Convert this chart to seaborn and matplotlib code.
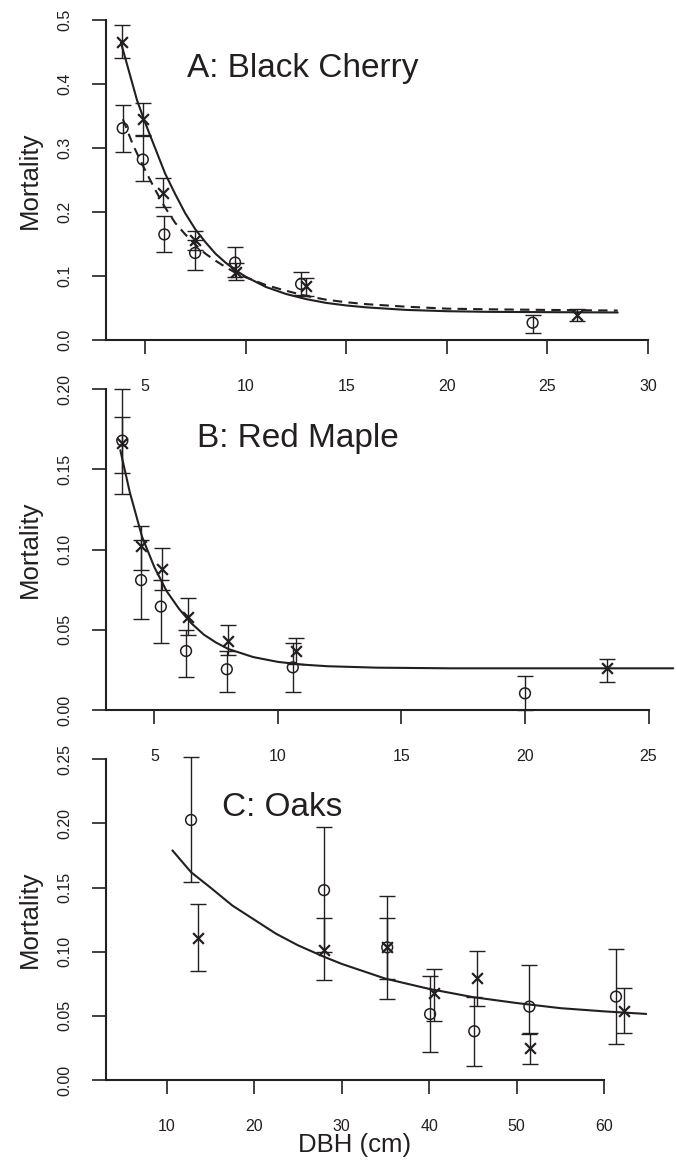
import matplotlib
matplotlib.use("Agg")
from matplotlib import pyplot as plt
import seaborn as sns
import pandas as pd

# panel A: black cherry
a_cross_x = [3.84, 4.92, 5.91, 7.49, 9.53, 12.98, 26.5]
a_cross_y = [0.465, 0.346, 0.230, 0.157, 0.107, 0.084, 0.039]
a_cross_lo = [0.440, 0.320, 0.208, 0.140, 0.094, 0.068, 0.030]
a_cross_hi = [0.492, 0.370, 0.253, 0.170, 0.120, 0.097, 0.048]
a_circ_x = [3.89, 4.89, 5.96, 7.49, 9.48, 12.76, 24.27]
a_circ_y = [0.331, 0.282, 0.165, 0.136, 0.121, 0.0875, 0.027]
a_circ_lo = [0.294, 0.248, 0.137, 0.109, 0.099, 0.070, 0.0115]
a_circ_hi = [0.367, 0.319, 0.193, 0.156, 0.145, 0.107, 0.039]
a_solid_x = [3.8, 4.2, 4.6, 5.0, 5.5, 6.0, 6.5, 7.0, 7.5, 8.0, 8.5, 9.0, 9.5, 10, 11, 12, 13, 14, 15, 16, 18, 20, 22, 25, 28.5]
a_solid_y = [0.465, 0.42, 0.375, 0.34, 0.30, 0.26, 0.228, 0.198, 0.173, 0.153, 0.135, 0.121, 0.109, 0.099,
             0.083, 0.072, 0.064, 0.058, 0.054, 0.051, 0.047, 0.045, 0.044, 0.0435, 0.043]
a_dash_x = [3.9, 4.4, 4.9, 5.5, 6.0, 6.5, 7.0, 7.5, 8.0, 8.5, 9.0, 9.5, 10, 11, 12, 13, 14, 15, 16, 18, 20, 22, 25, 28.5]
a_dash_y = [0.345, 0.305, 0.272, 0.235, 0.207, 0.183, 0.165, 0.149, 0.135, 0.124, 0.114, 0.105, 0.098,
            0.086, 0.077, 0.069, 0.063, 0.059, 0.056, 0.052, 0.049, 0.048, 0.047, 0.046]

# panel B: red maple
b_cross_x = [3.68, 4.45, 5.30, 6.35, 7.97, 10.74, 23.3]
b_cross_y = [0.1665, 0.102, 0.0878, 0.0582, 0.043, 0.0368, 0.026]
b_cross_lo = [0.148, 0.087, 0.075, 0.047, 0.034, 0.0287, 0.0177]
b_cross_hi = [0.183, 0.115, 0.101, 0.070, 0.053, 0.045, 0.032]
b_circ_x = [3.70, 4.46, 5.26, 6.28, 7.93, 10.6, 20.0]
b_circ_y = [0.168, 0.081, 0.0645, 0.0368, 0.0254, 0.0266, 0.0104]
b_circ_lo = [0.135, 0.057, 0.042, 0.0204, 0.011, 0.0114, 0.0]
b_circ_hi = [0.200, 0.106, 0.081, 0.050, 0.037, 0.0416, 0.021]
b_solid_x = [3.62, 4.0, 4.5, 5.0, 5.5, 6.0, 6.5, 7.0, 7.5, 8.0, 9.0, 10, 11, 12, 14, 17, 20, 26]
b_solid_y = [0.162, 0.136, 0.108, 0.089, 0.074, 0.063, 0.054, 0.047, 0.042, 0.038, 0.033, 0.030,
             0.0283, 0.0273, 0.0264, 0.026, 0.026, 0.026]

# panel C: oaks
c_cross_x = [13.6, 27.98, 35.2, 40.5, 45.5, 51.5, 62.3]
c_cross_y = [0.111, 0.101, 0.1034, 0.068, 0.0798, 0.0247, 0.054]
c_cross_lo = [0.085, 0.078, 0.0785, 0.0463, 0.058, 0.0125, 0.0364]
c_cross_hi = [0.137, 0.126, 0.1266, 0.0865, 0.1008, 0.037, 0.0715]
c_circ_x = [12.78, 27.98, 35.2, 40.1, 45.15, 51.45, 61.35]
c_circ_y = [0.2027, 0.148, 0.1034, 0.0514, 0.038, 0.0572, 0.065]
c_circ_lo = [0.154, 0.100, 0.063, 0.022, 0.011, 0.036, 0.028]
c_circ_hi = [0.2515, 0.197, 0.1437, 0.081, 0.065, 0.090, 0.102]
c_solid_x = [10.65, 12.78, 15, 17.5, 20, 22.5, 25, 28, 30, 35, 40, 45, 50, 55, 60, 64.8]
c_solid_y = [0.179, 0.162, 0.150, 0.136, 0.125, 0.114, 0.105, 0.096, 0.0905, 0.079, 0.071,
             0.0646, 0.060, 0.056, 0.0535, 0.0515]

ink = "#231f20"
sns.set_theme(style="ticks")
plt.rcParams["font.family"] = ["Liberation Sans", "DejaVu Sans"]

W, H = 677, 1163
fig = plt.figure(figsize=(W / 100, H / 100), dpi=100)


def panel(top_px, bottom_px, xlim, xticks, yticks, ylabels, title, title_xy,
          cross, circ, curves):
    ax = fig.add_axes([106 / W, 1 - bottom_px / H, 566 / W, (bottom_px - top_px) / H])
    ax.patch.set_visible(False)
    for cx, cy, ls in curves:
        sns.lineplot(x=cx, y=cy, ax=ax, color=ink, lw=1.5, linestyle=ls,
                     sort=False, estimator=None, clip_on=False)
    for (px, py, lo, hi), mk in ((circ, "o"), (cross, "x")):
        df = pd.DataFrame({"x": px, "y": py})
        ax.errorbar(px, py, yerr=[[y - l for y, l in zip(py, lo)], [h - y for y, h in zip(py, hi)]],
                    fmt="none", ecolor=ink, elinewidth=1.0, capsize=6, capthick=1.0, clip_on=False)
        if mk == "o":
            sns.scatterplot(data=df, x="x", y="y", ax=ax, marker="o", s=60,
                            facecolor="none", edgecolor=ink, linewidth=1.1, clip_on=False, zorder=4)
        else:
            sns.scatterplot(data=df, x="x", y="y", ax=ax, marker="x", s=60,
                            color=ink, linewidth=1.6, clip_on=False, zorder=4)
    ax.set_xlim(*xlim)
    ax.set_ylim(yticks[0], yticks[-1])
    ax.set_xticks(xticks)
    ax.set_yticks(yticks)
    ax.set_yticklabels(ylabels)
    sns.despine(ax=ax)
    for s in ("left", "bottom"):
        ax.spines[s].set_linewidth(1.5)
        ax.spines[s].set_color(ink)
    ax.spines["bottom"].set_bounds(xlim[0], xticks[-1])
    ax.tick_params(axis="both", length=10, width=1.2, color=ink, labelcolor=ink, labelsize=11.5)
    ax.tick_params(axis="x", pad=18)
    ax.tick_params(axis="y", pad=14, labelrotation=90)
    for lab in ax.get_yticklabels():
        lab.set_va("center")
    ax.set_xlabel("")
    ax.set_ylabel("Mortality", fontsize=18.5, color=ink)
    ax.yaxis.set_label_coords(-0.113, 0.5)
    ax.text((title_xy[0] - 106) / 566, (bottom_px - title_xy[1]) / (bottom_px - top_px), title,
            transform=ax.transAxes, fontsize=24, color=ink, ha="left", va="baseline")
    return ax


panel(20, 340, (3.06, 31.2), [5, 10, 15, 20, 25, 30],
      [0.0, 0.1, 0.2, 0.3, 0.4, 0.5], ["0.0", "0.1", "0.2", "0.3", "0.4", "0.5"],
      "A: Black Cherry", (187, 76.7),
      (a_cross_x, a_cross_y, a_cross_lo, a_cross_hi),
      (a_circ_x, a_circ_y, a_circ_lo, a_circ_hi),
      [(a_solid_x, a_solid_y, "-"), (a_dash_x, a_dash_y, (0, (4.5, 3)))])

panel(389.3, 710, (3.04, 25.95), [5, 10, 15, 20, 25],
      [0.0, 0.05, 0.10, 0.15, 0.20], ["0.00", "0.05", "0.10", "0.15", "0.20"],
      "B: Red Maple", (197, 446.7),
      (b_cross_x, b_cross_y, b_cross_lo, b_cross_hi),
      (b_circ_x, b_circ_y, b_circ_lo, b_circ_hi),
      [(b_solid_x, b_solid_y, "-")])

ax_c = panel(759.3, 1080, (3.06, 67.75), [10, 20, 30, 40, 50, 60],
             [0.0, 0.05, 0.10, 0.15, 0.20, 0.25], ["0.00", "0.05", "0.10", "0.15", "0.20", "0.25"],
             "C: Oaks", (222, 816),
             (c_cross_x, c_cross_y, c_cross_lo, c_cross_hi),
             (c_circ_x, c_circ_y, c_circ_lo, c_circ_hi),
             [(c_solid_x, c_solid_y, "-")])
ax_c.set_xlabel("DBH (cm)", fontsize=18.5, color=ink)
ax_c.xaxis.set_label_coords(0.44, -0.165)

fig.savefig("out.png", dpi=100)
